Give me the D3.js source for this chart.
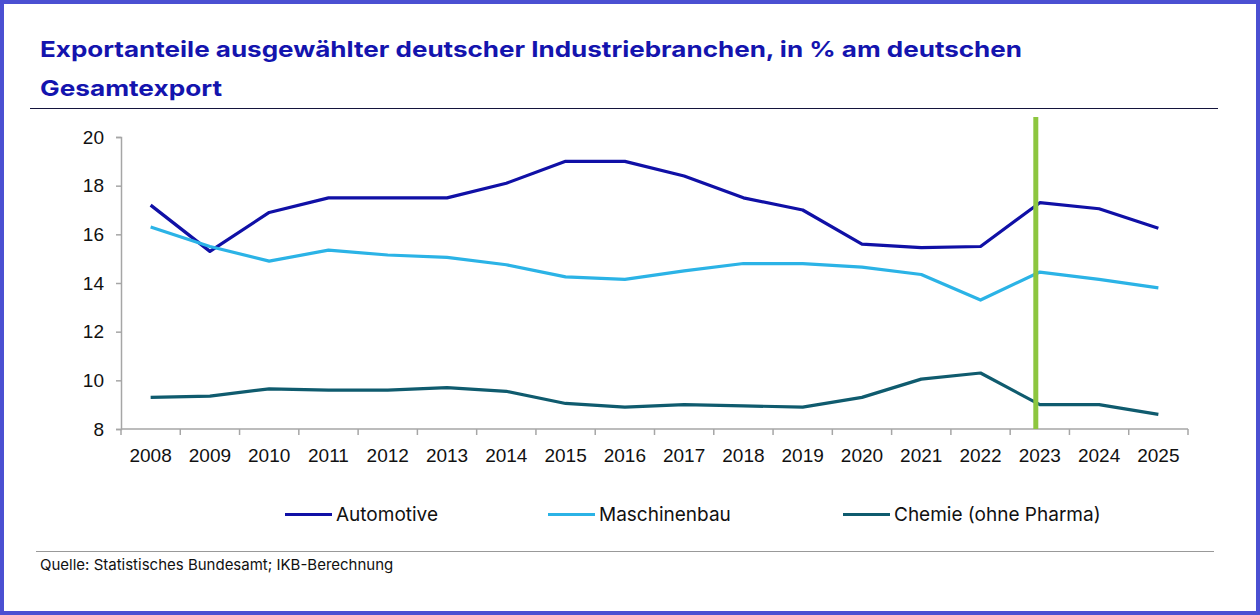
<!DOCTYPE html>
<html>
<head>
<meta charset="UTF-8">
<title>Exportanteile</title>
<script src="https://d3js.org/d3.v7.min.js"></script>
<style>
  html, body { margin: 0; padding: 0; background: #fff; }
  svg { display: block; }
</style>
</head>
<body>
<svg id="chart" width="1260" height="615"></svg>
<script>
  // Data
  var years = ["2008", "2009", "2010", "2011", "2012", "2013", "2014", "2015", "2016",
    "2017", "2018", "2019", "2020", "2021", "2022", "2023", "2024", "2025"];
  var automotive = [17.2, 15.3, 16.9, 17.5, 17.5, 17.5, 18.1, 19.0, 19.0,
    18.4, 17.5, 17.0, 15.6, 15.45, 15.5, 17.3, 17.05, 16.25];
  var maschinenbau = [16.3, 15.5, 14.9, 15.35, 15.15, 15.05, 14.75, 14.25, 14.15,
    14.5, 14.8, 14.8, 14.65, 14.35, 13.3, 14.45, 14.15, 13.8];
  var chemie = [9.3, 9.35, 9.65, 9.6, 9.6, 9.7, 9.55, 9.05, 8.9,
    9.0, 8.95, 8.9, 9.3, 10.05, 10.3, 9.0, 9.0, 8.6];
  var yTicks = [8, 10, 12, 14, 16, 18, 20];
  var markerYear = "2023";

  var series = [
    { name: "Automotive", values: automotive, color: "#1010a6" },
    { name: "Maschinenbau", values: maschinenbau, color: "#2bb3e6" },
    { name: "Chemie (ohne Pharma)", values: chemie, color: "#0f5b6e" }
  ];

  var svg = d3.select("#chart");
  var axisFont = "'Liberation Sans', Arial, sans-serif";
  var textFont = "Inter, 'Noto Sans', sans-serif";

  // frame
  svg.append("rect")
    .attr("x", 2).attr("y", 2)
    .attr("width", 1256).attr("height", 611)
    .attr("fill", "#fff")
    .attr("stroke", "#4b50d2")
    .attr("stroke-width", 4);

  // title
  var title = svg.append("text")
    .attr("fill", "#1414ae")
    .style("font-family", textFont)
    .style("font-weight", "bold")
    .style("font-size", "22px");
  title.append("tspan").attr("x", 40).attr("y", 57)
    .attr("textLength", 982).attr("lengthAdjust", "spacingAndGlyphs")
    .text("Exportanteile ausgewählter deutscher Industriebranchen, in % am deutschen");
  title.append("tspan").attr("x", 40).attr("y", 96)
    .attr("textLength", 182).attr("lengthAdjust", "spacingAndGlyphs")
    .text("Gesamtexport");

  svg.append("line")
    .attr("x1", 30).attr("x2", 1218)
    .attr("y1", 108.5).attr("y2", 108.5)
    .attr("stroke", "#14143c").attr("stroke-width", 1);

  // scales
  var x = d3.scaleBand().domain(years).range([121, 1188]);
  var y = d3.scaleLinear().domain([8, 20]).range([429, 137]);

  // y axis
  var yAxis = svg.append("g")
    .attr("transform", "translate(121,0)")
    .call(d3.axisLeft(y).tickValues(yTicks).tickSize(5).tickPadding(12));
  yAxis.select(".domain").attr("stroke", "#a6a6a6").attr("stroke-width", 1.5);
  yAxis.selectAll(".tick line").attr("stroke", "#a6a6a6").attr("stroke-width", 1.5);
  yAxis.selectAll("text")
    .style("font-family", axisFont).style("font-size", "19px").attr("fill", "#111");

  // x axis: ticks at category boundaries
  var xAxis = svg.append("g").attr("transform", "translate(0,429)");
  xAxis.append("line")
    .attr("x1", 121).attr("x2", 1188)
    .attr("stroke", "#a6a6a6").attr("stroke-width", 1.5);
  xAxis.selectAll("line.tk")
    .data(years.concat(["end"]))
    .enter().append("line")
    .attr("class", "tk")
    .attr("x1", function (d, i) { return i < years.length ? x(d) : x.range()[1]; })
    .attr("x2", function (d, i) { return i < years.length ? x(d) : x.range()[1]; })
    .attr("y1", 0).attr("y2", 6)
    .attr("stroke", "#a6a6a6").attr("stroke-width", 1.5);
  xAxis.selectAll("text")
    .data(years)
    .enter().append("text")
    .attr("x", function (d) { return x(d) + x.bandwidth() / 2; })
    .attr("y", 33)
    .attr("text-anchor", "middle")
    .attr("fill", "#111")
    .style("font-family", axisFont).style("font-size", "19px")
    .text(function (d) { return d; });

  // lines
  var line = d3.line()
    .x(function (d, i) { return x(years[i]) + x.bandwidth() / 2; })
    .y(function (d) { return y(d); });

  series.forEach(function (s) {
    svg.append("path")
      .datum(s.values)
      .attr("fill", "none")
      .attr("stroke", s.color)
      .attr("stroke-width", 3.2)
      .attr("stroke-linejoin", "round")
      .attr("d", line);
  });

  // green marker at 2023
  svg.append("line")
    .attr("x1", x(markerYear) + x.bandwidth() / 2 - 4)
    .attr("x2", x(markerYear) + x.bandwidth() / 2 - 4)
    .attr("y1", 117).attr("y2", 429)
    .attr("stroke", "#8dc63f").attr("stroke-width", 5);

  // legend
  var legendX = [285, 548, 843];
  var legend = svg.append("g");
  series.forEach(function (s, i) {
    legend.append("line")
      .attr("x1", legendX[i]).attr("x2", legendX[i] + 47)
      .attr("y1", 514.5).attr("y2", 514.5)
      .attr("stroke", s.color).attr("stroke-width", 3);
    legend.append("text")
      .attr("x", legendX[i] + 51).attr("y", 521)
      .attr("fill", "#111")
      .style("font-family", textFont).style("font-size", "19px")
      .text(s.name);
  });

  // footer
  svg.append("line")
    .attr("x1", 36).attr("x2", 1214)
    .attr("y1", 551.5).attr("y2", 551.5)
    .attr("stroke", "#999").attr("stroke-width", 1);
  svg.append("text")
    .attr("x", 40).attr("y", 570)
    .attr("fill", "#111")
    .style("font-family", textFont).style("font-size", "15px")
    .text("Quelle: Statistisches Bundesamt; IKB-Berechnung");
</script>
</body>
</html>
